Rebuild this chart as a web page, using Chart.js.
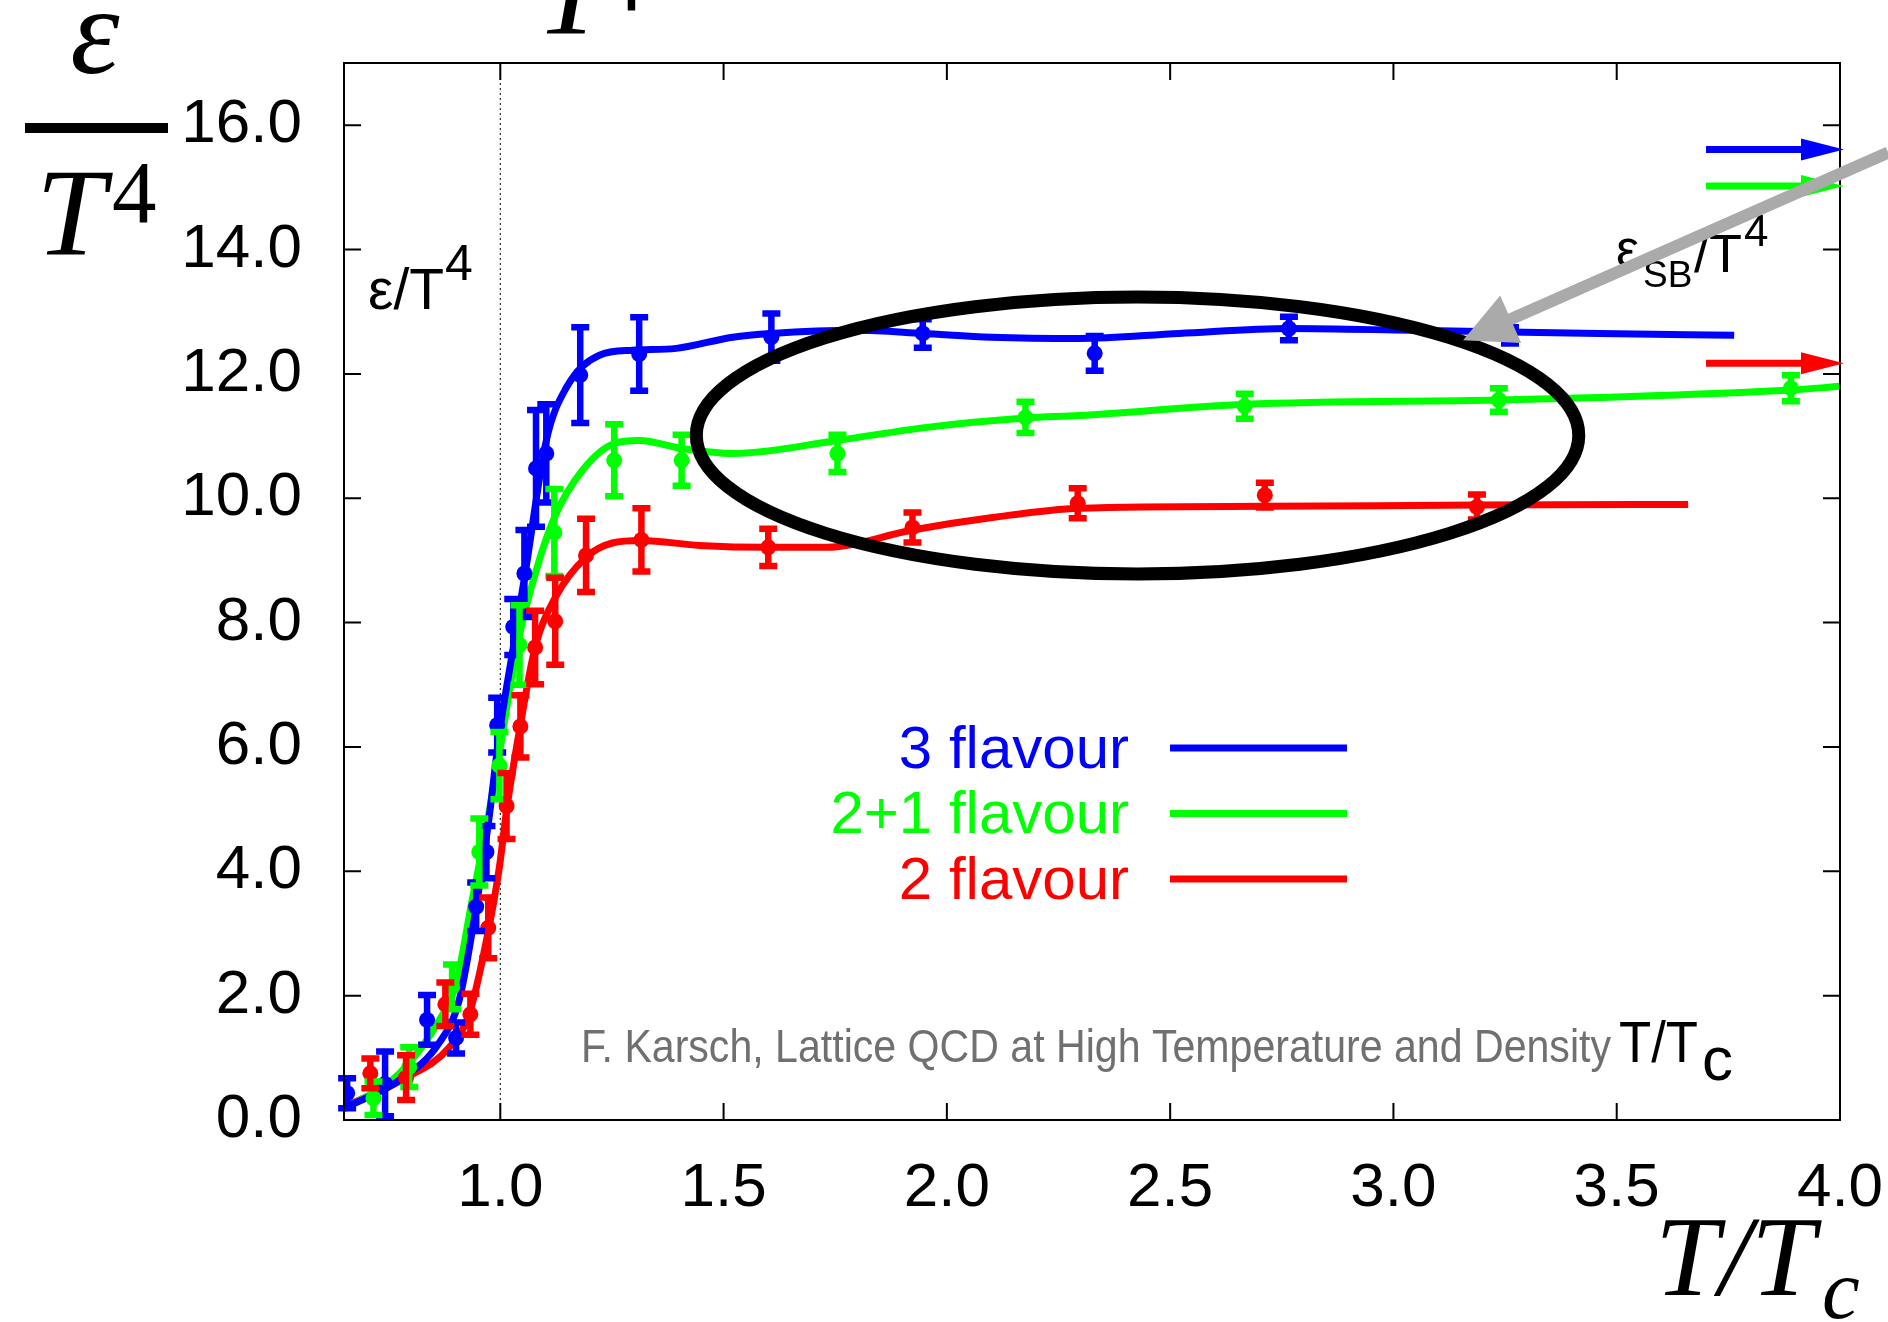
<!DOCTYPE html>
<html>
<head>
<meta charset="utf-8">
<script src="https://cdn.jsdelivr.net/npm/chart.js@4.4.1/dist/chart.umd.min.js"></script>
<style>
  html, body { margin: 0; padding: 0; background: #fff; }
  #wrap { width: 1888px; height: 1322px; position: relative; }
</style>
</head>
<body>
<div id="wrap"><canvas id="c"></canvas></div>
<script>
// ----- data -----
const seriesNames = ["3 flavour", "2+1 flavour", "2 flavour"];
const seriesColors = ["#0000ff", "#00ff00", "#ff0000"];

// lattice points (T/Tc, eps/T^4, error)
const pts3x = [0.657, 0.742, 0.836, 0.901, 0.946, 0.969, 0.993, 1.029, 1.054, 1.080, 1.103, 1.179, 1.311, 1.607, 1.946, 2.331, 2.766, 3.261];
const pts3y = [0.43, 0.58, 1.61, 1.32, 3.43, 4.31, 6.35, 7.93, 8.79, 10.48, 10.72, 11.98, 12.32, 12.59, 12.65, 12.33, 12.73, 12.62];
const pts3e = [0.24, 0.52, 0.40, 0.25, 0.39, 0.42, 0.44, 0.45, 0.70, 0.94, 0.79, 0.77, 0.59, 0.38, 0.23, 0.28, 0.19, 0.13];

const pts21x = [0.716, 0.796, 0.892, 0.953, 0.998, 1.043, 1.121, 1.255, 1.406, 1.755, 2.176, 2.667, 3.236, 3.890];
const pts21y = [0.35, 0.85, 2.14, 4.31, 5.70, 7.64, 9.45, 10.61, 10.61, 10.72, 11.30, 11.48, 11.58, 11.77];
const pts21e = [0.27, 0.32, 0.36, 0.54, 0.54, 0.64, 0.70, 0.58, 0.41, 0.30, 0.25, 0.20, 0.19, 0.21];

const pts2x = [0.709, 0.789, 0.877, 0.933, 0.973, 1.014, 1.045, 1.078, 1.123, 1.192, 1.316, 1.600, 1.923, 2.293, 2.712, 3.187];
const pts2y = [0.75, 0.68, 1.86, 1.70, 3.09, 5.05, 6.33, 7.60, 8.02, 9.08, 9.33, 9.21, 9.53, 9.92, 10.05, 9.86];
const pts2e = [0.24, 0.36, 0.35, 0.33, 0.49, 0.53, 0.50, 0.59, 0.70, 0.59, 0.51, 0.30, 0.24, 0.24, 0.20, 0.20];

// smooth fit curves
const fit3x = [0.65, 0.774, 0.863, 0.908, 0.946, 0.975, 0.998, 1.029, 1.058, 1.103, 1.148, 1.222, 1.296, 1.394, 1.52, 1.607, 1.80, 1.946, 2.10, 2.297, 2.52, 2.766, 3.04, 3.46, 3.763];
const fit3y = [0.19, 0.64, 1.24, 1.93, 3.43, 4.87, 6.22, 7.6, 8.9, 10.93, 11.78, 12.3, 12.38, 12.41, 12.59, 12.65, 12.70, 12.65, 12.59, 12.57, 12.65, 12.73, 12.70, 12.65, 12.62];

const fit21x = [0.65, 0.774, 0.863, 0.901, 0.937, 0.969, 0.998, 1.036, 1.072, 1.121, 1.184, 1.255, 1.311, 1.408, 1.52, 1.755, 1.955, 2.176, 2.297, 2.667, 3.236, 3.46, 3.89, 4.0];
const fit21y = [0.17, 0.75, 1.6, 2.2, 3.54, 4.71, 5.9, 7.56, 8.63, 9.69, 10.45, 10.88, 10.93, 10.8, 10.72, 10.93, 11.14, 11.29, 11.33, 11.51, 11.58, 11.62, 11.74, 11.80];

const fit2x = [0.65, 0.789, 0.886, 0.931, 0.969, 0.998, 1.014, 1.043, 1.078, 1.123, 1.192, 1.251, 1.316, 1.446, 1.60, 1.73, 1.923, 2.102, 2.297, 2.712, 3.187, 3.66];
const fit2y = [0.21, 0.68, 1.17, 1.72, 2.89, 4.07, 4.98, 6.27, 7.60, 8.4, 9.05, 9.28, 9.32, 9.24, 9.21, 9.21, 9.49, 9.69, 9.84, 9.87, 9.89, 9.90];

// Stefan-Boltzmann limits (arrows at the right edge)
const sbLimits = [15.61, 15.02, 12.17];
const sbArrowFrom = 3.70;

const xTickVals = [1.0, 1.5, 2.0, 2.5, 3.0, 3.5, 4.0];
const yTickVals = [0, 2, 4, 6, 8, 10, 12, 14, 16];

// highlight ellipse (data units) and pointer arrow
const ellipseC = [2.427, 11.01];
const ellipseR = [0.988, 2.227];
const pointerTail = [4.108, 15.56];
const pointerTip = [3.156, 12.54];

const SANS = '"Liberation Sans", Arial, Helvetica, sans-serif';
const SERIF = '"Liberation Serif", "Times New Roman", serif';

const toXY = (xs, ys) => xs.map((x, i) => ({ x: x, y: ys[i] }));

const fits = [[fit3x, fit3y], [fit21x, fit21y], [fit2x, fit2y]];
const points = [[pts3x, pts3y, pts3e], [pts21x, pts21y, pts21e], [pts2x, pts2y, pts2e]];

const datasets = [];
fits.forEach((f, i) => {
  datasets.push({
    label: seriesNames[i] + " fit",
    data: toXY(f[0], f[1]),
    showLine: true,
    borderColor: seriesColors[i],
    borderWidth: 7,
    pointRadius: 0,
    cubicInterpolationMode: "monotone",
    order: 2
  });
});
points.forEach((p, i) => {
  datasets.push({
    label: seriesNames[i],
    data: toXY(p[0], p[1]),
    errors: p[2],
    showLine: false,
    pointRadius: 8,
    pointBackgroundColor: seriesColors[i],
    pointBorderWidth: 0,
    color: seriesColors[i],
    order: 1
  });
});

// ----- drawing helpers -----
function arrow(ctx, x0, y0, x1, y1, width, headLen, headHalf, color) {
  const a = Math.atan2(y1 - y0, x1 - x0);
  const bx = x1 - headLen * Math.cos(a), by = y1 - headLen * Math.sin(a);
  ctx.save();
  ctx.strokeStyle = color;
  ctx.fillStyle = color;
  ctx.lineWidth = width;
  ctx.lineCap = "butt";
  ctx.beginPath();
  ctx.moveTo(x0, y0);
  ctx.lineTo(bx + 2 * Math.cos(a), by + 2 * Math.sin(a));
  ctx.stroke();
  ctx.beginPath();
  ctx.moveTo(x1, y1);
  ctx.lineTo(bx + headHalf * Math.sin(a), by - headHalf * Math.cos(a));
  ctx.lineTo(bx - headHalf * Math.sin(a), by + headHalf * Math.cos(a));
  ctx.closePath();
  ctx.fill();
  ctx.restore();
}

// text squeezed to a given width
function narrowText(ctx, str, font, x, y, width, color) {
  ctx.save();
  ctx.font = font;
  const w = ctx.measureText(str).width;
  ctx.translate(x, y);
  ctx.scale(width / w, 1);
  ctx.fillStyle = color;
  ctx.fillText(str, 0, 0);
  ctx.restore();
}

const errorBars = {
  id: "errorBars",
  afterDatasetsDraw(chart) {
    const ctx = chart.ctx, xs = chart.scales.x, ys = chart.scales.y;
    ctx.save();
    chart.data.datasets.forEach(ds => {
      if (!ds.errors) return;
      ctx.strokeStyle = ds.color;
      ctx.lineWidth = 6.5;
      ds.data.forEach((pt, i) => {
        const px = xs.getPixelForValue(pt.x);
        const top = ys.getPixelForValue(pt.y + ds.errors[i]);
        const bot = ys.getPixelForValue(pt.y - ds.errors[i]);
        ctx.beginPath();
        ctx.moveTo(px, top); ctx.lineTo(px, bot);
        ctx.moveTo(px - 9, top); ctx.lineTo(px + 9, top);
        ctx.moveTo(px - 9, bot); ctx.lineTo(px + 9, bot);
        ctx.stroke();
      });
    });
    ctx.restore();
  }
};

const decorations = {
  id: "decorations",
  beforeDatasetsDraw(chart) {
    const ctx = chart.ctx, xs = chart.scales.x, a = chart.chartArea;
    // dotted line at T = Tc
    ctx.save();
    ctx.strokeStyle = "#000";
    ctx.lineWidth = 1;
    ctx.setLineDash([2, 3]);
    const x1 = xs.getPixelForValue(1.0);
    ctx.beginPath();
    ctx.moveTo(x1, a.top); ctx.lineTo(x1, a.bottom);
    ctx.stroke();
    ctx.restore();
  },
  afterDraw(chart) {
    const ctx = chart.ctx, xs = chart.scales.x, ys = chart.scales.y, a = chart.chartArea;

    // frame and inward ticks on all four sides
    ctx.save();
    ctx.strokeStyle = "#000";
    ctx.lineWidth = 2;
    ctx.strokeRect(a.left, a.top, a.right - a.left, a.bottom - a.top);
    ctx.beginPath();
    xTickVals.forEach(v => {
      const px = xs.getPixelForValue(v);
      ctx.moveTo(px, a.bottom); ctx.lineTo(px, a.bottom - 17);
      ctx.moveTo(px, a.top); ctx.lineTo(px, a.top + 17);
    });
    yTickVals.forEach(v => {
      const py = ys.getPixelForValue(v);
      ctx.moveTo(a.left, py); ctx.lineTo(a.left + 17, py);
      ctx.moveTo(a.right, py); ctx.lineTo(a.right - 17, py);
    });
    ctx.stroke();
    ctx.restore();

    // SB limit arrows
    sbLimits.forEach((v, i) => {
      const py = ys.getPixelForValue(v);
      arrow(ctx, xs.getPixelForValue(sbArrowFrom), py, a.right + 4, py, 7, 43, 11, seriesColors[i]);
    });

    // legend
    ctx.save();
    ctx.font = "60px " + SANS;
    ctx.textAlign = "right";
    ctx.textBaseline = "middle";
    seriesNames.forEach((name, i) => {
      const y = 748 + i * 65.5;
      ctx.fillStyle = seriesColors[i];
      ctx.fillText(name, 1129, y + 3);
      ctx.strokeStyle = seriesColors[i];
      ctx.lineWidth = 7;
      ctx.beginPath();
      ctx.moveTo(1170, y); ctx.lineTo(1347, y);
      ctx.stroke();
    });
    ctx.restore();

    // highlight ellipse
    ctx.save();
    const cx = xs.getPixelForValue(ellipseC[0]), cy = ys.getPixelForValue(ellipseC[1]);
    const rx = xs.getPixelForValue(ellipseC[0] + ellipseR[0]) - cx;
    const ry = cy - ys.getPixelForValue(ellipseC[1] + ellipseR[1]);
    ctx.strokeStyle = "#000";
    ctx.lineWidth = 13;
    ctx.beginPath();
    ctx.ellipse(cx, cy, rx, ry, 0, 0, Math.PI * 2);
    ctx.stroke();
    ctx.restore();

    // in-plot labels
    ctx.save();
    ctx.fillStyle = "#000";
    ctx.textAlign = "left";
    ctx.textBaseline = "alphabetic";
    ctx.font = "57px " + SANS;
    ctx.fillText("\u03b5/T", 368, 309);
    const w1 = ctx.measureText("\u03b5/T").width;
    ctx.font = "50px " + SANS;
    ctx.fillText("4", 368 + w1 + 1, 280);

    ctx.font = "52px " + SANS;
    ctx.fillText("\u03b5", 1616, 266);
    ctx.font = "37px " + SANS;
    ctx.fillText("SB", 1643, 287);
    ctx.font = "54px " + SANS;
    ctx.fillText("/T", 1694, 272);
    ctx.font = "44px " + SANS;
    ctx.fillText("4", 1744, 246);
    ctx.restore();

    // credit line, set narrow
    narrowText(ctx, "F. Karsch, Lattice QCD at High Temperature and Density", "46px " + SANS, 581, 1062, 1030, "#707070");
    narrowText(ctx, "T/T", "57px " + SANS, 1619, 1062, 79, "#000");
    narrowText(ctx, "c", "62px " + SANS, 1702, 1080, 31, "#000");

    // pointer arrow to the SB limit
    arrow(ctx,
      xs.getPixelForValue(pointerTail[0]), ys.getPixelForValue(pointerTail[1]),
      xs.getPixelForValue(pointerTip[0]), ys.getPixelForValue(pointerTip[1]),
      12, 52, 26, "#aaaaaa");

    // axis titles
    ctx.save();
    ctx.fillStyle = "#000";
    ctx.font = "italic 125px " + SERIF;
    ctx.textAlign = "center";
    ctx.fillText("\u03b5", 95, 73);
    ctx.fillRect(25, 123, 143, 10);
    ctx.textAlign = "left";
    ctx.fillText("T", 36, 255);
    ctx.font = "89px " + SERIF;
    ctx.fillText("4", 112, 222);
    // cut-off title above the frame
    ctx.font = "italic 125px " + SERIF;
    ctx.fillText("T", 536, 34);
    ctx.font = "89px " + SERIF;
    ctx.fillText("4", 600, 10);
    // x title
    ctx.font = "italic 115px " + SERIF;
    ctx.fillText("T/T", 1655, 1295);
    ctx.font = "italic 85px " + SERIF;
    ctx.fillText("c", 1822, 1318);
    ctx.restore();
  }
};

new Chart(document.getElementById("c"), {
  type: "scatter",
  data: { datasets: datasets },
  plugins: [errorBars, decorations],
  options: {
    responsive: true,
    maintainAspectRatio: false,
    animation: false,
    devicePixelRatio: 1,
    layout: { padding: { top: 63, right: 48, left: 0, bottom: 0 } },
    plugins: {
      legend: { display: false },
      tooltip: { enabled: false }
    },
    scales: {
      x: {
        type: "linear",
        min: 0.65,
        max: 4.0,
        grid: { display: false, drawTicks: false },
        border: { display: false },
        afterBuildTicks: s => { s.ticks = xTickVals.map(v => ({ value: v })); },
        afterFit: s => { s.height = 202; s.paddingLeft = 0; s.paddingRight = 0; },
        ticks: {
          padding: 32,
          color: "#000",
          font: { family: SANS, size: 62 },
          callback: v => v.toFixed(1)
        }
      },
      y: {
        type: "linear",
        min: 0,
        max: 17,
        grid: { display: false, drawTicks: false },
        border: { display: false },
        afterBuildTicks: s => { s.ticks = yTickVals.map(v => ({ value: v })); },
        afterFit: s => { s.width = 344; s.paddingTop = 0; s.paddingBottom = 0; },
        ticks: {
          padding: 42,
          color: "#000",
          font: { family: SANS, size: 62 },
          callback: v => v.toFixed(1)
        }
      }
    }
  }
});
</script>
</body>
</html>
